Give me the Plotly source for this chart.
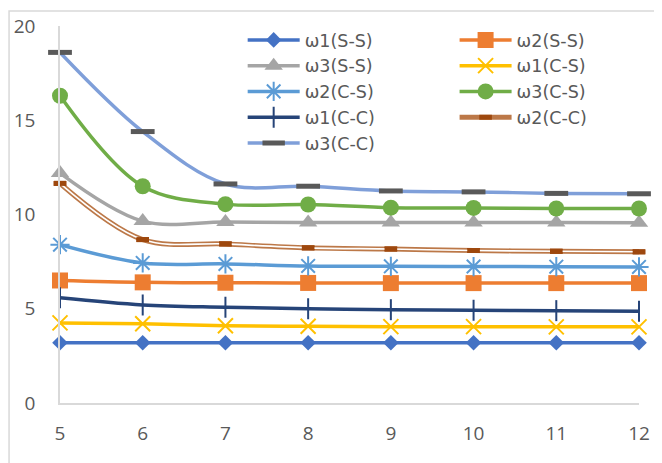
import plotly.graph_objects as go

x_vals = [5, 6, 7, 8, 9, 10, 11, 12]
w1_SS = [3.2, 3.2, 3.2, 3.2, 3.2, 3.2, 3.2, 3.2]
w2_SS = [6.5, 6.4, 6.38, 6.37, 6.36, 6.36, 6.36, 6.36]
w3_SS = [12.2, 9.65, 9.6, 9.58, 9.57, 9.57, 9.57, 9.56]
w1_CS = [4.25, 4.2, 4.1, 4.07, 4.05, 4.05, 4.04, 4.04]
w2_CS = [8.4, 7.43, 7.38, 7.27, 7.25, 7.24, 7.23, 7.22]
w3_CS = [16.3, 11.5, 10.55, 10.53, 10.36, 10.35, 10.32, 10.32]
w1_CC = [5.58, 5.2, 5.08, 5.0, 4.95, 4.92, 4.9, 4.87]
w2_CC = [11.65, 8.67, 8.44, 8.23, 8.17, 8.09, 8.05, 8.02]
w3_CC = [18.6, 14.4, 11.62, 11.5, 11.25, 11.2, 11.12, 11.1]

names = ["ω1(S-S)", "ω2(S-S)", "ω3(S-S)", "ω1(C-S)", "ω2(C-S)",
         "ω3(C-S)", "ω1(C-C)", "ω2(C-C)", "ω3(C-C)"]
x_ticks = [5, 6, 7, 8, 9, 10, 11, 12]
y_ticks = [0, 5, 10, 15, 20]

FONT = "Open Sans"
LEG_FONT = "DejaVu Sans"
TXT = "#595959"
LW = 3.5

fig = go.Figure()

def add(y, name, color, marker, legend, lw=LW, showlegend=True, group=None):
    fig.add_trace(go.Scatter(
        x=x_vals, y=y, name=name, mode="lines+markers",
        line=dict(color=color, width=lw, shape="spline", smoothing=1),
        marker=marker, legend=legend, showlegend=showlegend,
        legendgroup=group or name, hoverinfo="skip", cliponaxis=False))

add(w1_SS, names[0], "#4472C4", dict(symbol="diamond", size=12, color="#4472C4"), "legend")
add(w2_SS, names[1], "#ED7D31", dict(symbol="square", size=16, color="#ED7D31"), "legend2")
add(w3_SS, names[2], "#A5A5A5", dict(symbol="triangle-up", size=16, color="#A5A5A5"), "legend")
add(w1_CS, names[3], "#FFC000", dict(symbol="x-thin-open", size=15, color="#FFC000",
                                      line=dict(color="#FFC000", width=2)), "legend2")
add(w2_CS, names[4], "#5B9BD5", dict(symbol="asterisk-open", size=16, color="#5B9BD5",
                                      line=dict(color="#5B9BD5", width=2)), "legend")
add(w3_CS, names[5], "#70AD47", dict(symbol="circle", size=16, color="#70AD47"), "legend2")
add(w1_CC, names[6], "#264478", dict(symbol="line-ns-open", size=15, color="#264478",
                                      line=dict(color="#264478", width=2)), "legend")
add(w2_CC, names[7], "#BC7848", dict(symbol="line-ew-open", size=9, color="#9E480E",
                                      line=dict(color="#9E480E", width=5)), "legend2", lw=5)
add(w2_CC, names[7], "#FFFFFF", dict(symbol="line-ew-open", size=9, color="#9E480E",
                                      line=dict(color="#9E480E", width=5)), "legend2",
    lw=1.6, showlegend=False, group=names[7])
add(w3_CC, names[8], "#7F9FD9", dict(symbol="line-ew-open", size=17, color="#595959",
                                      line=dict(color="#636363", width=5)), "legend")

legend_common = dict(font=dict(family=LEG_FONT, size=17.5, color=TXT), bgcolor="rgba(0,0,0,0)",
                     itemwidth=52, yanchor="top", xanchor="left", tracegroupgap=0,
                     orientation="v", traceorder="normal")

fig.update_layout(
    width=654, height=455,
    margin=dict(l=52, r=23, t=18, b=60, autoexpand=False),
    paper_bgcolor="white", plot_bgcolor="white",
    font=dict(family=FONT, color=TXT),
    showlegend=True,
    legend=dict(x=0.3155, y=1.0106, **legend_common),
    legend2=dict(x=0.6815, y=1.0106, **legend_common),
    xaxis=dict(range=[5, 12], tickvals=x_ticks, ticktext=[str(v) for v in x_ticks],
               showgrid=False, zeroline=False, showline=True, linecolor="#D9D9D9",
               linewidth=1.5, ticks="", ticklabelstandoff=12, automargin=False,
               tickfont=dict(family=FONT, size=19, color=TXT)),
    yaxis=dict(range=[0, 20], tickvals=y_ticks, ticktext=[str(v) for v in y_ticks],
               showgrid=False, zeroline=False, showline=True, linecolor="#D9D9D9",
               linewidth=1.5, ticks="", ticklabelstandoff=19, automargin=False,
               tickfont=dict(family=FONT, size=19, color=TXT)),
    shapes=[dict(type="rect", xref="paper", yref="paper",
                 x0=-0.088, x1=1.2, y0=-0.3, y1=1.0398,
                 line=dict(color="#D9D9D9", width=1.5), fillcolor="rgba(0,0,0,0)",
                 layer="below")],
)

fig.write_html("out.html")
